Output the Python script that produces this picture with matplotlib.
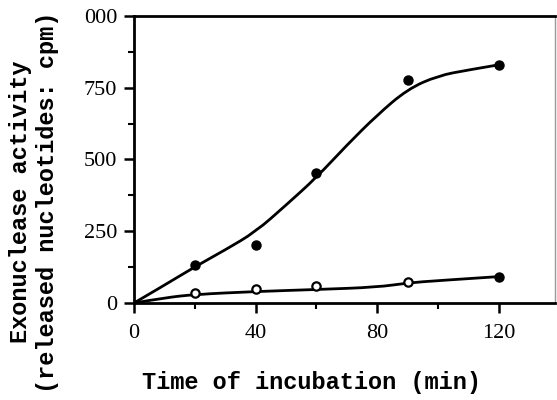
import numpy as np
import matplotlib
matplotlib.use("Agg")
import matplotlib.pyplot as plt
from matplotlib.path import Path
from matplotlib.patches import PathPatch

# measured points (time in min, cpm)
t_filled = [20, 40, 60, 90, 120]
cpm_filled = [132, 202, 452, 777, 830]
t_open = [20, 40, 60, 90]
cpm_open = [34, 48, 59, 73]
t_open_end = [120]
cpm_open_end = [92]

# hand-drawn fitted curves
t_fit_upper = [0, 10, 20, 30, 40, 50, 60, 70, 80, 90, 100, 110, 120]
cpm_fit_upper = [0, 62, 126, 185, 248, 341, 437, 550, 655, 745, 792, 812, 830]
t_fit_lower = [0, 10, 20, 40, 60, 80, 90, 100, 120]
cpm_fit_lower = [0, 18, 30, 40, 47, 55, 70, 78, 92]

xticks = [0, 40, 80, 120]
yticks = [0, 250, 500, 750, 1000]
ytick_labels = ["0", "250", "500", "750", "000"]


def smooth_path(xs, ys):
    # quadratic bezier through midpoints, read points act as control points
    pts = list(zip(xs, ys))
    verts = [pts[0]]
    codes = [Path.MOVETO]
    for i in range(1, len(pts) - 1):
        mid = ((pts[i][0] + pts[i+1][0]) / 2, (pts[i][1] + pts[i+1][1]) / 2)
        if i == len(pts) - 2:
            mid = pts[-1]
        verts += [pts[i], mid]
        codes += [Path.CURVE3, Path.CURVE3]
    return Path(verts, codes)


fig = plt.figure(figsize=(5.57, 4), dpi=100)
ax = fig.add_axes([134/557, 1-303/400, (555-134)/557, (303-16)/400])

for xs, ys in [(t_fit_upper, cpm_fit_upper), (t_fit_lower, cpm_fit_lower)]:
    ax.add_patch(PathPatch(smooth_path(xs, ys), fill=False, ec="black", lw=2,
                           capstyle="round"))
ax.plot(t_filled, cpm_filled, "o", color="black", ms=6.5, zorder=3)
ax.plot(t_open, cpm_open, "o", mfc="white", mec="black", mew=1.6, ms=6, zorder=3)
ax.plot(t_open_end, cpm_open_end, "o", color="black", ms=6.5, zorder=3)

ax.set_xlim(0, 138.5)
ax.set_ylim(0, 1000)
ax.set_xticks(xticks)
ax.set_xticks([20, 60, 100], minor=True)
ax.set_yticks(yticks)
ax.set_yticks([125, 375, 625, 875], minor=True)
ax.set_yticklabels(ytick_labels)

for lab in ax.get_xticklabels() + ax.get_yticklabels():
    lab.set_fontfamily("Liberation Serif")
    lab.set_fontsize(16)

ax.tick_params(which="major", direction="out", length=7, width=1.8)
ax.tick_params(axis="x", which="major", pad=8)
ax.tick_params(axis="y", which="major", pad=5)
ax.tick_params(which="minor", direction="out", length=4, width=1.5)

for s in ["left", "bottom", "top"]:
    ax.spines[s].set_linewidth(2)
ax.spines["right"].set_linewidth(1)
ax.spines["right"].set_color("#999999")

fig.text(312/557, 1-382/400, "Time of incubation (min)", ha="center", va="center",
         family="Liberation Mono", weight="bold", fontsize=17)
fig.text(34/557, 1-202/400, "Exonuclease activity\n(released nucleotides: cpm)",
         ha="center", va="center", rotation=90, family="Liberation Mono",
         weight="bold", fontsize=17, linespacing=1.2)

fig.savefig("out.png", dpi=100)
